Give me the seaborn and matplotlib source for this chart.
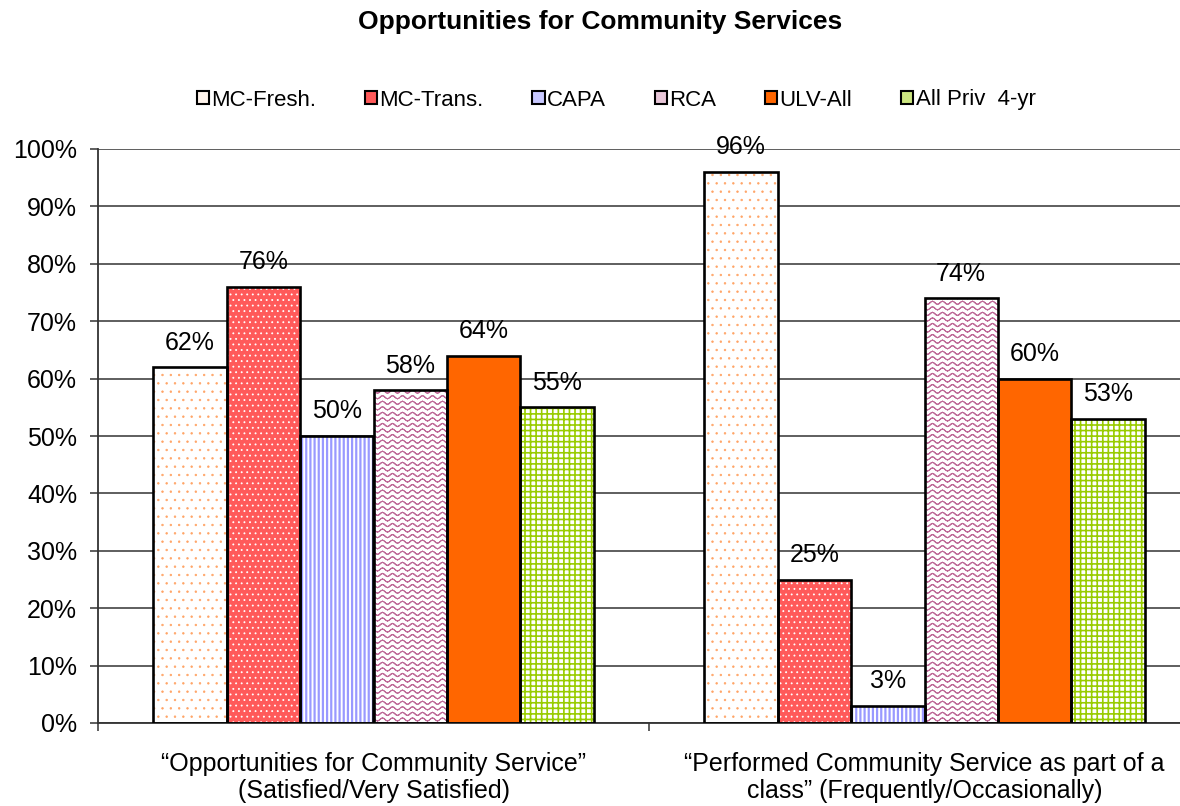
import numpy as np
import pandas as pd
import matplotlib
matplotlib.use("Agg")
import matplotlib.pyplot as plt
import seaborn as sns
from matplotlib import hatch as mhatch
from matplotlib.path import Path
from matplotlib.patches import Rectangle, Patch

# ---- data -------------------------------------------------------------
categories = [
    "\u201cOpportunities for Community Service\u201d\n(Satisfied/Very Satisfied)",
    "\u201cPerformed Community Service as part of a\nclass\u201d (Frequently/Occasionally)",
]
groups = ["MC-Fresh.", "MC-Trans.", "CAPA", "RCA", "ULV-All", "All Priv  4-yr"]
mc_fresh = [62, 96]
mc_trans = [76, 25]
capa = [50, 3]
rca = [58, 74]
ulv_all = [64, 60]
all_priv = [55, 53]
y_ticks = list(range(0, 101, 10))
title = "Opportunities for Community Services"

series = [mc_fresh, mc_trans, capa, rca, ulv_all, all_priv]
df = pd.DataFrame(
    [(c, g, v[i]) for g, v in zip(groups, series) for i, c in enumerate(categories)],
    columns=["category", "group", "value"],
)

# ---- styling per series -----------------------------------------------
face_colors = ["white", "#FF5A5A", "white", "white", "#FF6600", "white"]
hatches = ["..", "...", "||||", "***", "", "+++"]
hatch_colors = ["#FFA466", "white", "#9999FF", "#BF6A98", "#FF6600", "#99CC00"]
hatch_widths = [0.5, 0.6, 1.6, 0.8, 1.0, 1.2]
legend_faces = ["#FFF4EC", "#FF5A5A", "#C8C8FF", "#E8C6D8", "#FF6600", "#CCE680"]


# Wavy horizontal lines, bound to the '*' hatch character.
class WaveHatch(mhatch.HatchPatternBase):
    periods = 10
    seg_per_period = 8
    amplitude = 0.015

    def __init__(self, hatch, density):
        self.num_rows = int(hatch.count("*") * density)
        self.nseg = self.periods * self.seg_per_period
        self.num_vertices = self.num_rows * self.nseg * 2

    def set_vertices_and_codes(self, vertices, codes):
        xs = np.linspace(0.0, 1.0, self.nseg + 1)
        wave = self.amplitude * np.sin(2 * np.pi * self.periods * xs)
        k = 0
        for r in range(self.num_rows):
            y0 = (r + 0.5) / self.num_rows
            ys = y0 + wave
            for s in range(self.nseg):
                vertices[k] = (xs[s], ys[s])
                vertices[k + 1] = (xs[s + 1], ys[s + 1])
                codes[k] = Path.MOVETO
                codes[k + 1] = Path.LINETO
                k += 2


mhatch._hatch_types[:] = [h for h in mhatch._hatch_types if h is not mhatch.Stars] + [WaveHatch]

# ---- figure -----------------------------------------------------------
sns.set_theme(style="white")
plt.rcParams["font.family"] = ["Liberation Sans", "DejaVu Sans"]
plt.rcParams["text.color"] = "black"
plt.rcParams["xtick.color"] = "black"
plt.rcParams["ytick.color"] = "black"
plt.rcParams["hatch.linewidth"] = 1.0

W, H = 1180, 806
fig = plt.figure(figsize=(W / 100, H / 100), dpi=100)
ax = fig.add_axes([98 / W, 83 / H, 1102 / W, 574 / H])

sns.barplot(
    data=df, x="category", y="value", hue="group",
    order=categories, hue_order=groups,
    palette=dict(zip(groups, face_colors)), saturation=1,
    width=0.8, gap=0, errorbar=None, legend=False,
    linewidth=0, ax=ax, zorder=2,
)

for cont, h, hc, hw in zip(ax.containers, hatches, hatch_colors, hatch_widths):
    for bar in cont:
        bar.set_hatch(h)
        bar.set_edgecolor(hc)
        bar.set_linewidth(0)
        if hasattr(bar, "set_hatch_linewidth"):
            bar.set_hatch_linewidth(hw)
        else:
            bar._hatch_linewidth = hw
        ax.add_patch(Rectangle(bar.get_xy(), bar.get_width(), bar.get_height(),
                               fill=False, edgecolor="black", linewidth=1.9,
                               zorder=3))
    ax.bar_label(cont, labels=[f"{v:.0f}%" for v in cont.datavalues],
                 padding=9, fontsize=18, color="black")

ax.set_ylim(0, 100)
ax.set_xlim(-0.5, 1.5)
ax.set_yticks(y_ticks)
ax.set_yticklabels([f"{t}%" for t in y_ticks])
ax.yaxis.grid(True, color="#333333", linewidth=1.1)
ax.set_axisbelow(True)

for side in ["top", "right"]:
    ax.spines[side].set_visible(False)
for side in ["left", "bottom"]:
    ax.spines[side].set_color("#333333")
    ax.spines[side].set_linewidth(1.3)

ax.tick_params(axis="y", left=True, length=6, width=1.1, color="#333333",
               pad=9, labelsize=18, labelcolor="black")
ax.set_xticks([0, 1])
ax.set_xticklabels(categories, fontsize=18, linespacing=1.15)
ax.set_xticks([-0.5, 0.5, 1.5], minor=True)
ax.tick_params(axis="x", which="major", bottom=False, length=0, pad=21,
               labelcolor="black")
ax.tick_params(axis="x", which="minor", bottom=True, length=6, width=1.1,
               color="#333333")
ax.set_xlabel("")
ax.set_ylabel("")

fig.text(600 / W, 1 - 22 / H, title, ha="center", va="center",
         fontsize=19, fontweight="bold", color="black")

handles = [Patch(facecolor=fc, edgecolor="black", linewidth=1.5) for fc in legend_faces]
fig.legend(handles, groups, loc="center", bbox_to_anchor=(616 / W, 1 - 100 / H),
           ncol=6, frameon=False, fontsize=16, handlelength=0.55,
           handleheight=0.55, handletextpad=0.1, columnspacing=2.2,
           labelcolor="black")

fig.savefig("out.png", dpi=100)
